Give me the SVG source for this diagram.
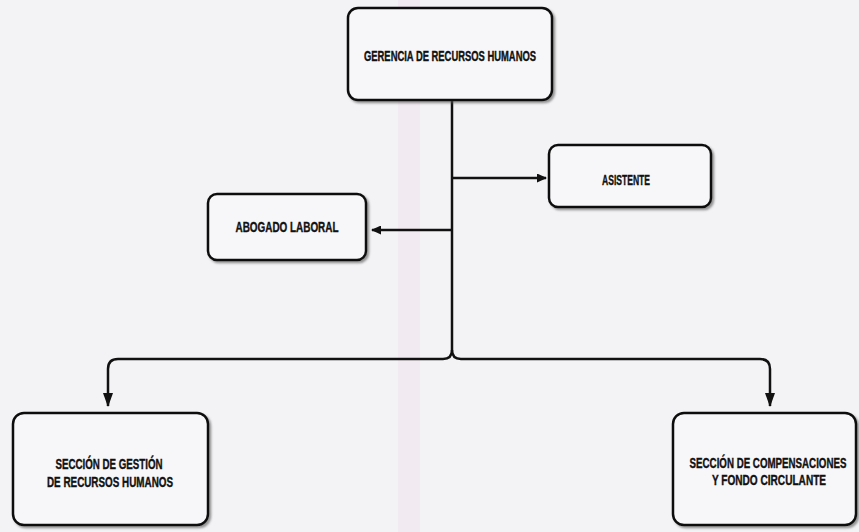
<svg xmlns="http://www.w3.org/2000/svg" width="859" height="532" viewBox="0 0 859 532">
<defs>
<marker id="ah" markerWidth="14" markerHeight="10" refX="13" refY="5" orient="auto" markerUnits="userSpaceOnUse">
<path d="M0,0 L14,5 L0,10 Z" fill="#111"/>
</marker>
<marker id="ahs" markerWidth="10" markerHeight="9" refX="9" refY="4.5" orient="auto" markerUnits="userSpaceOnUse">
<path d="M0,0 L10,4.5 L0,9 Z" fill="#111"/>
</marker>
<filter id="sh" x="-10%" y="-10%" width="130%" height="130%">
<feDropShadow dx="2" dy="2" stdDeviation="1.2" flood-color="#555" flood-opacity="0.6"/>
</filter>
</defs>
<style>
.box{fill:#f7f6f9;stroke:#111;stroke-width:2.5;filter:url(#sh)}
.lbl{font-family:"Liberation Sans",Arial,sans-serif;font-weight:bold;font-size:15px;fill:#111;stroke:#111;stroke-width:0.4;text-anchor:middle}
.con{fill:none;stroke:#111;stroke-width:2.5}
</style>
<rect width="859" height="532" fill="#f3f2f5"/>
<rect x="398" y="0" width="22" height="532" fill="#f1e4ee" opacity="0.6"/>
<g id="connectors">
<path class="con" d="M452,100 L452,350"/>
<path class="con" d="M452,178 L546,178" marker-end="url(#ahs)"/>
<path class="con" d="M452,230 L372,230" marker-end="url(#ahs)"/>
<path class="con" d="M452,350 Q452,359 443,359 L118,359 Q108,359 108,369 L108,406" marker-end="url(#ah)"/>
<path class="con" d="M452,350 Q452,359 461,359 L760,359 Q770,359 770,369 L770,406" marker-end="url(#ah)"/>
</g>
<g id="gerencia">
<rect class="box" x="348" y="8" width="204" height="92" rx="10"/>
<text class="lbl" x="450" y="61" textLength="172" lengthAdjust="spacingAndGlyphs">GERENCIA DE RECURSOS HUMANOS</text>
</g>
<g id="asistente">
<rect class="box" x="549" y="145" width="162" height="62" rx="9"/>
<text class="lbl" x="626" y="185" textLength="48" lengthAdjust="spacingAndGlyphs">ASISTENTE</text>
</g>
<g id="abogado">
<rect class="box" x="208" y="194" width="158" height="66" rx="9"/>
<text class="lbl" x="287" y="232" textLength="103" lengthAdjust="spacingAndGlyphs">ABOGADO LABORAL</text>
</g>
<g id="seccion-gestion">
<rect class="box" x="13" y="413" width="195" height="112" rx="11"/>
<text class="lbl" x="109" y="469" textLength="107" lengthAdjust="spacingAndGlyphs">SECCIÓN DE GESTIÓN</text>
<text class="lbl" x="110" y="487" textLength="126" lengthAdjust="spacingAndGlyphs">DE RECURSOS HUMANOS</text>
</g>
<g id="seccion-compensaciones">
<rect class="box" x="673" y="413" width="183" height="112" rx="11"/>
<text class="lbl" transform="translate(768,468) scale(0.7,1)" x="0" y="0" textLength="224" lengthAdjust="spacingAndGlyphs">SECCIÓN DE COMPENSACIONES</text>
<text class="lbl" transform="translate(769,485) scale(0.7,1)" x="0" y="0" textLength="163" lengthAdjust="spacingAndGlyphs">Y FONDO CIRCULANTE</text>
</g>
</svg>
